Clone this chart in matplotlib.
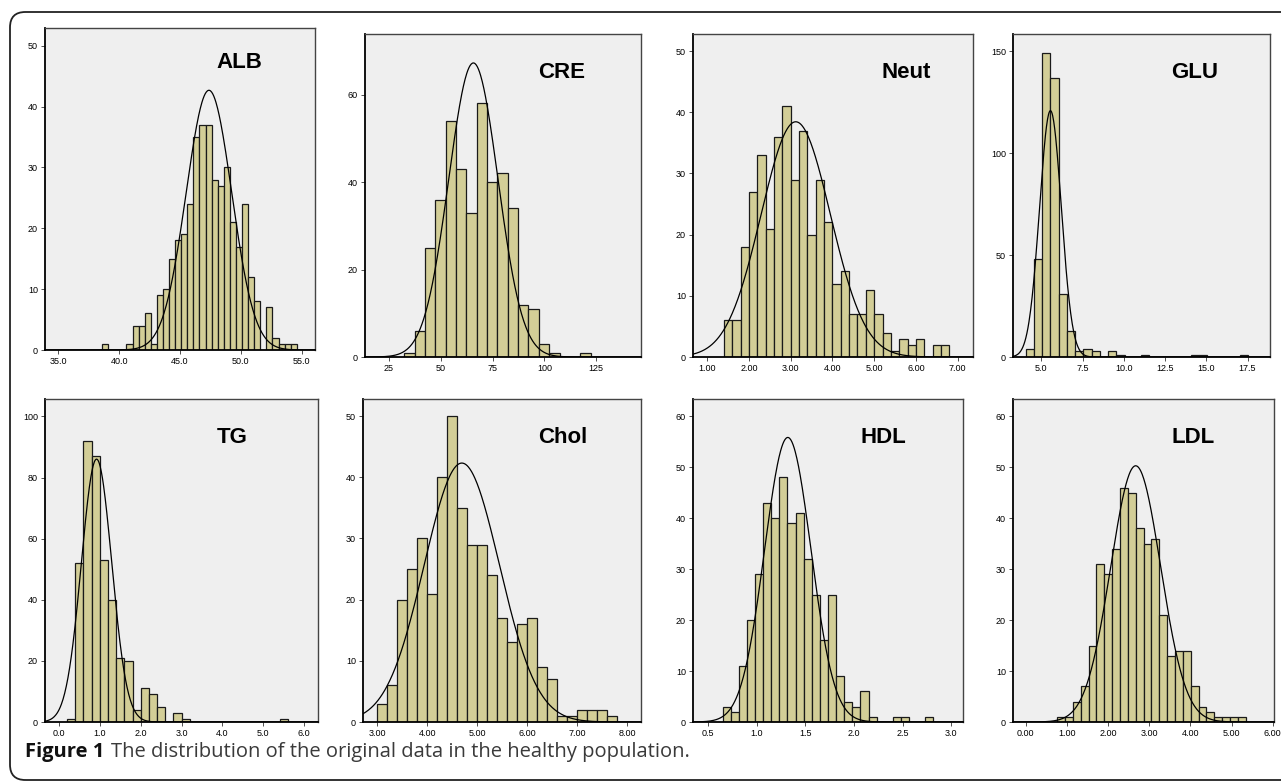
import numpy as np
import matplotlib
matplotlib.use('Agg')
import matplotlib.pyplot as plt
from matplotlib.patches import FancyBboxPatch

# bin counts (bins of equal width, starting at *_start)
alb_counts = [1, 0, 0, 0, 1, 4, 4, 6, 1, 9, 10, 15, 18, 19, 24, 35, 37, 37, 28, 27, 30, 21, 17, 24, 12, 8, 0, 7, 2, 1, 1, 1]
alb_start, alb_width = 38.6, 0.5
alb_mean, alb_sd = 47.38, 1.87

cre_counts = [1, 6, 25, 36, 54, 43, 33, 58, 40, 42, 34, 12, 11, 3, 1, 0, 0, 1]
cre_start, cre_width = 32.3, 5.0
cre_mean, cre_sd = 65.7, 11.86

neut_counts = [6, 6, 18, 27, 33, 21, 36, 41, 29, 37, 20, 29, 22, 12, 14, 7, 7, 11, 7, 4, 1, 3, 2, 3, 0, 2, 2]
neut_start, neut_width = 1.4, 0.2
neut_mean, neut_sd = 3.12, 0.83

glu_counts = [4, 48, 149, 137, 31, 13, 3, 4, 3, 0, 3, 1, 0, 0, 1, 0, 0, 0, 0, 0, 1, 1, 0, 0, 0, 0, 1]
glu_start, glu_width = 4.05, 0.5
glu_mean, glu_sd = 5.55, 0.66

tg_counts = [1, 52, 92, 87, 53, 40, 21, 20, 4, 11, 9, 5, 0, 3, 1, 0, 0, 0, 0, 0, 0, 0, 0, 0, 0, 0, 1]
tg_start, tg_width = 0.2, 0.2
tg_mean, tg_sd = 0.92, 0.371

chol_counts = [3, 6, 20, 25, 30, 21, 40, 50, 35, 29, 29, 24, 17, 13, 16, 17, 9, 7, 1, 1, 2, 2, 2, 1]
chol_start, chol_width = 3.0, 0.2
chol_mean, chol_sd = 4.69, 0.754

hdl_counts = [3, 2, 11, 20, 29, 43, 40, 48, 39, 41, 32, 25, 16, 25, 9, 4, 3, 6, 1, 0, 0, 1, 1, 0, 0, 1]
hdl_start, hdl_width = 0.65, 0.0833
hdl_mean, hdl_sd = 1.32, 0.238

ldl_counts = [1, 1, 4, 7, 15, 31, 29, 34, 46, 45, 38, 35, 36, 21, 13, 14, 14, 7, 3, 2, 1, 1, 1, 1]
ldl_start, ldl_width = 0.76, 0.191
ldl_mean, ldl_sd = 2.67, 0.606

names = ['ALB', 'CRE', 'Neut', 'GLU', 'TG', 'Chol', 'HDL', 'LDL']
all_counts = [alb_counts, cre_counts, neut_counts, glu_counts, tg_counts, chol_counts, hdl_counts, ldl_counts]
starts = [alb_start, cre_start, neut_start, glu_start, tg_start, chol_start, hdl_start, ldl_start]
widths = [alb_width, cre_width, neut_width, glu_width, tg_width, chol_width, hdl_width, ldl_width]
means = [alb_mean, cre_mean, neut_mean, glu_mean, tg_mean, chol_mean, hdl_mean, ldl_mean]
sds = [alb_sd, cre_sd, neut_sd, glu_sd, tg_sd, chol_sd, hdl_sd, ldl_sd]

xticks = [[35, 40, 45, 50, 55], [25, 50, 75, 100, 125], [1, 2, 3, 4, 5, 6, 7],
          [5, 7.5, 10, 12.5, 15, 17.5], [0, 1, 2, 3, 4, 5, 6], [3, 4, 5, 6, 7, 8],
          [0.5, 1.0, 1.5, 2.0, 2.5, 3.0], [0, 1, 2, 3, 4, 5, 6]]
yticks = [[0, 10, 20, 30, 40, 50], [0, 20, 40, 60], [0, 10, 20, 30, 40, 50], [0, 50, 100, 150],
          [0, 20, 40, 60, 80, 100], [0, 10, 20, 30, 40, 50], [0, 10, 20, 30, 40, 50, 60],
          [0, 10, 20, 30, 40, 50, 60]]
xfmt = ['%.1f', '%d', '%.2f', '%.1f', '%.1f', '%.2f', '%.1f', '%.2f']

caption_bold = 'Figure 1'
caption_rest = 'The distribution of the original data in the healthy population.'

# layout (pixels): left, top, right, bottom of each plot box
W, H = 1281, 783
boxes = [(45, 28, 315, 350), (365, 34, 641, 357), (693, 34, 973, 357), (1013, 34, 1270, 357),
         (45, 399, 318, 722), (363, 399, 641, 722), (693, 399, 963, 722), (1013, 399, 1274, 722)]
xlims = [(33.9, 56.1), (13.4, 146.6), (0.656, 7.37), (3.28, 18.86),
         (-0.342, 6.34), (2.71, 8.28), (0.346, 3.12), (-0.31, 6.03)]
ylims = [52.9, 73.9, 52.8, 158.5, 105.7, 52.8, 63.4, 63.4]
label_pos = [(0.72, 0.894), (0.713, 0.882), (0.763, 0.882), (0.708, 0.882),
             (0.684, 0.882), (0.72, 0.882), (0.704, 0.882), (0.69, 0.882)]

tick_font = ['Liberation Sans Narrow', 'Liberation Sans', 'DejaVu Sans']

fig = plt.figure(figsize=(W / 100, H / 100), dpi=100)

# rounded outer frame
frame = FancyBboxPatch((10 / W, 3 / H), 1.2, 1 - 15 / H,
                       boxstyle='round,pad=0,rounding_size=0.012',
                       transform=fig.transFigure, facecolor='none',
                       edgecolor='#222222', linewidth=1.3, mutation_aspect=W / H)
fig.patches.append(frame)

for i in range(8):
    l, t, r, b = boxes[i]
    ax = fig.add_axes([l / W, 1 - b / H, (r - l) / W, (b - t) / H])
    ax.set_facecolor('#efefef')
    counts = np.array(all_counts[i])
    edges = starts[i] + widths[i] * np.arange(len(counts))
    ax.bar(edges, counts, width=widths[i], align='edge', color='#d3ce97',
           edgecolor='#1a1a1a', linewidth=0.9, zorder=2)

    # fitted normal curve, scaled to the counts
    xs = np.linspace(xlims[i][0], xlims[i][1], 500)
    scale = counts.sum() * widths[i] / (sds[i] * np.sqrt(2 * np.pi))
    ax.plot(xs, scale * np.exp(-0.5 * ((xs - means[i]) / sds[i]) ** 2),
            color='black', linewidth=0.9, zorder=3)

    ax.set_xlim(*xlims[i])
    ax.set_ylim(0, ylims[i])
    ax.set_xticks(xticks[i])
    ax.set_xticklabels([xfmt[i] % v for v in xticks[i]], family=tick_font, fontsize=6.5)
    ax.set_yticks(yticks[i])
    ax.set_yticklabels([str(v) for v in yticks[i]], family=tick_font, fontsize=6.5)
    ax.tick_params(length=3, width=0.6, pad=2, color='#333333')
    for side in ['top', 'right']:
        ax.spines[side].set_color('#444444')
        ax.spines[side].set_linewidth(1.0)
    for side in ['left', 'bottom']:
        ax.spines[side].set_color('black')
        ax.spines[side].set_linewidth(1.3)

    ax.text(label_pos[i][0], label_pos[i][1], names[i], transform=ax.transAxes,
            ha='center', va='center', fontsize=16, fontweight='bold',
            family=['Liberation Sans', 'DejaVu Sans'])

cap_y = 1 - 752 / H
t1 = fig.text(25 / W, cap_y, caption_bold, fontsize=14.5, fontweight='bold',
              family=['Open Sans', 'DejaVu Sans'], va='center', ha='left', color='#111111')
bb = t1.get_window_extent(fig.canvas.get_renderer())
fig.text((bb.x1 + 7) / W, cap_y, caption_rest,
         fontsize=14.5, family=['Open Sans', 'DejaVu Sans'], va='center', ha='left', color='#3a3a3a')

fig.savefig('out.png', dpi=100)
